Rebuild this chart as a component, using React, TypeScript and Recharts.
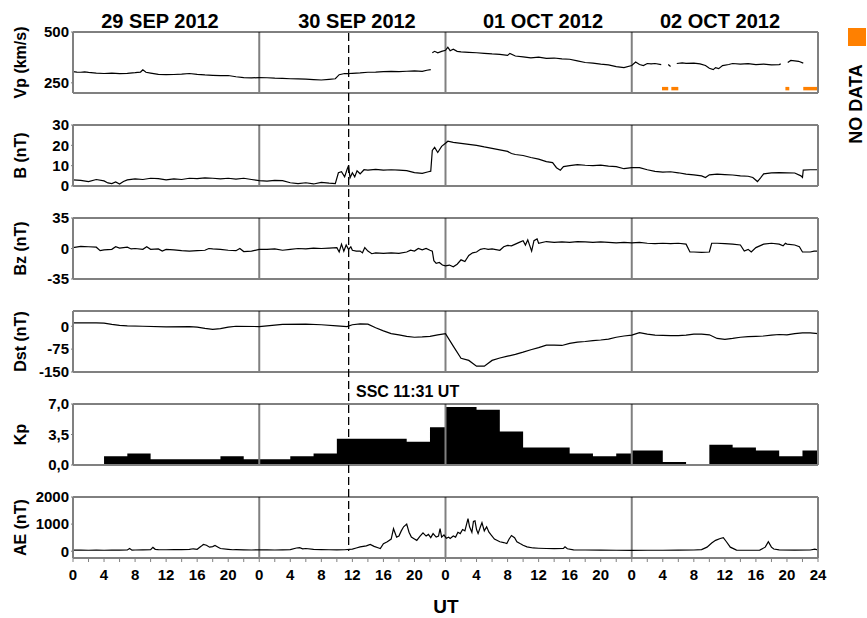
import React from 'react'
import {Area, AreaChart, Line, LineChart, ReferenceArea, ReferenceLine, XAxis, YAxis} from 'recharts'

type Pt = [number, number | null]

// hour since 29 Sep 2012 00 UT, value
const vp: Pt[] = [
	[0, 305], [0.5, 303], [1, 302], [1.5, 304], [2, 301], [3, 298], [4, 296], [5, 298], [6, 295], [7, 297], [8, 300],
	[8.7, 303], [9, 314], [9.4, 302], [10, 298], [11, 292], [12, 290], [13, 291], [14, 293], [15, 296], [16, 292],
	[17, 289], [18, 287], [19, 285], [20, 286], [21, 280], [22, 276], [23, 274], [24, 276],
	[25, 275], [26, 273], [27, 272], [28, 270], [29, 269], [30, 268], [31, 266], [32, 264], [33, 267], [33.8, 270],
	[34.3, 290], [35, 296], [35.5, 295], [36, 297], [37, 299], [38, 302], [39, 303], [40, 305], [41, 306], [42, 305],
	[43, 307], [44, 309], [45, 306], [45.6, 312], [46.1, 315], [46.2, null],
	[46.3, 398], [46.6, 405], [47, 398], [47.5, 405], [48, 410], [48.3, 425], [48.6, 408], [49, 415], [49.5, 405],
	[50, 402], [51, 400], [52, 398], [53, 395], [54, 392], [55, 390], [56, 385], [56.3, 395], [57, 382], [58, 378],
	[59, 373], [60, 376], [61, 370], [62, 372], [63, 368], [64, 366], [65, 358], [66, 350], [67, 347], [68, 342],
	[69, 338], [70, 330], [71, 325], [72, 335],
	[72.5, 352], [73, 340], [73.5, 335], [74, 345], [74.5, 343], [75, 345], [75.8, 340], [75.9, null],
	[76.7, 340], [77.0, 330], [77.1, null],
	[77.8, 345], [78.5, 348], [79, 346], [80, 347], [80.8, 343], [81.5, 335], [82, 322], [82.5, 315], [82.8, 325],
	[83.2, 320], [83.7, 335], [84.5, 340], [85, 345], [86, 342], [87, 344], [88, 340], [89, 342], [90, 338], [91, 340],
	[91.2, 343], [91.4, null],
	[92.1, 350], [92.5, 360], [93, 358], [93.5, 356], [94.1, 347],
]

const noDataStart = [75.9, 77.1, 91.8, 94.1]
const noDataEnd = [76.7, 78.0, 92.3, 96]

const bTotal: Pt[] = [
	[0, 3.0], [1, 2.8], [2, 2.2], [3, 3.2], [4, 2.5], [4.5, 1.5], [5, 1.2], [5.5, 2.0], [6, 1.0], [6.5, 2.2], [7, 3.0],
	[8, 3.5], [9, 3.2], [10, 3.8], [11, 3.6], [12, 3.0], [13, 3.5], [14, 3.2], [15, 3.8], [16, 3.6], [17, 4.0],
	[18, 3.8], [19, 3.5], [20, 3.8], [21, 3.4], [22, 3.8], [23, 3.2], [24, 2.6],
	[25, 2.4], [26, 2.8], [27, 2.6], [28, 1.6], [29, 1.2], [30, 1.6], [31, 1.0], [32, 1.8], [33, 1.4], [33.8, 1.2],
	[34.2, 6.5], [34.6, 7.0], [35, 4.5], [35.3, 8], [35.5, 10], [35.7, 4], [36, 6.5], [36.3, 4.5], [36.6, 7.5],
	[37, 6], [37.5, 8], [38, 7.8], [39, 8.2], [40, 7.8], [41, 8.0], [42, 7.8], [43, 7.6], [44, 6.6], [45, 6.2],
	[45.8, 7.0], [46.1, 7.3], [46.3, 17.5], [46.6, 19], [47, 16.5], [47.5, 19.5], [48, 21], [48.3, 22],
	[49, 21.5], [50, 21], [51, 20.5], [52, 20], [53, 19.2], [54, 18.5], [55, 17.8], [56, 17], [56.5, 16], [57, 15.5],
	[58, 15], [59, 14], [60, 13.2], [61, 12], [61.8, 11.5], [62.3, 9], [62.8, 7.8], [63.2, 9.5], [64, 10], [65, 10.5],
	[66, 10.2], [67, 10], [68, 10.3], [69, 9.8], [70, 9.5], [71, 8.5], [72, 9],
	[73, 9.0], [74, 8.0], [75, 7.2], [76, 6.8], [77, 7.0], [78, 6.5], [79, 5.8], [80, 5.5], [81, 5.0], [81.5, 4.2],
	[82, 5.5], [83, 5.8], [84, 5.6], [85, 5.4], [86, 5.0], [87, 4.8], [87.6, 4.2], [88.2, 2.2], [88.6, 4.0], [89, 6.0],
	[90, 6.5], [91, 6.6], [92, 6.5], [93, 6.4], [93.8, 5.0], [94, 4.2], [94.1, 7.8], [95, 8.0], [96, 8.0],
]

const bz: Pt[] = [
	[0, 1], [1, 2.5], [2, 2], [3, 1.5], [3.5, -2.5], [4, -1.5], [5, -1], [5.5, 2], [6, 0.5], [7, 1.5], [7.5, -0.5],
	[8, 0], [9, -1], [9.5, 2], [10, -1], [11, -0.5], [11.5, -3], [12, -1], [13, -1.5], [14, -2.5], [15, -3],
	[16, -2.5], [17, -2], [17.5, 0], [18, -0.5], [19, -1], [20, -2], [21, -2.5], [21.5, 0], [22, -3.5], [23, -3],
	[24, -1],
	[25, -1], [26, -0.5], [27, -2], [28, -1], [29, 0], [30, -0.5], [31, 0.5], [32, 0], [33, 0.5], [34, 1], [34.3, -4],
	[34.6, 5], [34.9, -3], [35.2, 4], [35.5, -1], [35.8, 2], [36, -2], [36.5, -3], [37, -3], [37.3, -5], [37.6, 1],
	[38, -3], [38.5, -6], [39, -5], [40, -5.5], [41, -5], [42, -5.5], [43, -4], [43.5, -2], [44, -3], [44.5, 0],
	[45, -1.5], [45.5, 0], [46, -2], [46.3, -3], [46.5, -14], [46.8, -17], [47.2, -16], [47.6, -19], [48, -20],
	[48.5, -19], [49, -21], [49.5, -18],
	[50, -13], [50.5, -15], [51, -8], [51.5, -5], [52, -4], [52.5, -1], [53, 0], [53.5, -1], [54, -0.5], [55, -2],
	[55.5, 2], [56, 3.5], [56.5, 3], [57, 5], [57.5, 7], [58, 9], [58.3, 4], [58.6, 10], [59.1, -3], [59.4, 9],
	[59.8, 11], [60, 6], [61, 8], [62, 7], [63, 7.5], [64, 7], [65, 8], [66, 7.5], [67, 7], [68, 7.5], [69, 7],
	[70, 6.5], [71, 7], [72, 6.5],
	[73, 7], [74, 6], [75, 5.5], [76, 6], [77, 5.5], [78, 6], [79, 5], [79.5, -4], [80, -4], [81, -4.5], [82, -4],
	[82.3, 6], [83, 6], [84, 5.5], [85, 5], [86, 4], [86.5, -3], [87, -1], [87.4, -4], [88, 1], [88.5, 3], [89, 5],
	[90, 6], [91, 5], [91.5, 3], [91.8, 6], [92, 5], [93, 4], [93.6, 2], [94, -4], [95, -4], [95.5, -3], [96, -3],
]

const dst: Pt[] = [
	[0, 11], [3, 11], [4, 10], [5, 6], [6, 3], [7, 1], [9, 0], [12, -2], [15, -1], [16, -3], [17, -7], [18, -10],
	[19, -8], [20, -3], [21, 0], [24, -1], [27, 6], [30, 7], [32, 5], [34, 1], [35.3, -1], [36, 5], [37, 8], [38, 7],
	[39, -5], [40, -15], [41, -24], [42, -28], [43, -33], [44, -36], [45, -35], [46, -33], [47, -28], [48, -24],
	[49, -65], [50, -105], [51, -112], [52, -131], [53, -131], [54, -112], [55, -104], [56, -98], [57, -92],
	[58, -85], [59, -77], [60, -70], [61, -62], [62, -62], [63, -63], [64, -56], [65, -52], [66, -50], [67, -47],
	[68, -45], [69, -42], [70, -36], [71, -32], [72, -29], [73, -21], [74, -26], [75, -29], [76, -30], [77, -31],
	[78, -31], [79, -29], [80, -26], [81, -26], [82, -28], [83, -40], [84, -43], [85, -40], [86, -36], [87, -34],
	[88, -33], [89, -32], [90, -29], [91, -27], [92, -28], [93, -24], [94, -22], [95, -22], [96, -24],
]

// 3-hourly Kp, each value holds until the next hour listed
const kp: Pt[] = [
	[0, 0], [4, 1], [7, 1.33], [10, 0.67], [19, 1], [22, 0.67], [28, 1], [31, 1.33], [34, 3], [43, 2.67], [46, 4.33],
	[48, 6.67], [52, 6.33], [55, 3.83], [58, 2], [64, 1.33], [67, 1], [70, 1.33], [72, 1.67], [76, 0.33], [79, 0],
	[82, 2.33], [85, 2], [88, 1.67], [91, 1], [94, 1.67], [96, 1.67],
]

const ae: Pt[] = [
	[0, 40], [1, 45], [2, 35], [3, 40], [4, 35], [5, 40], [6, 38], [7, 45], [7.3, 100], [7.6, 40], [8, 45], [9, 50],
	[10, 55], [10.3, 140], [10.6, 70], [11, 60], [12, 55], [13, 60], [14, 60], [15, 65], [15.5, 90], [16, 70],
	[16.5, 180], [16.8, 250], [17.2, 220], [17.6, 150], [18, 170], [18.3, 210], [18.7, 150], [19, 100], [20, 70],
	[20.6, 55], [21, 60], [22, 50], [23, 45], [24, 55],
	[25, 50], [26, 45], [27, 50], [28, 60], [28.8, 120], [29.2, 130], [29.6, 90], [30, 100], [31, 70], [32, 60],
	[33, 55], [34, 50], [35, 55], [36, 80], [36.5, 120], [37, 160], [37.8, 200], [38.3, 250], [38.8, 180],
	[39.3, 130], [39.6, 100], [40, 280], [40.5, 350], [41, 450], [41.3, 830], [41.7, 520], [42, 560], [42.3, 750],
	[42.6, 900], [43, 1000], [43.3, 700], [43.6, 520], [44, 450], [44.3, 400], [44.7, 550], [45.1, 680], [45.5, 560],
	[45.8, 620], [46.1, 500], [46.4, 650], [46.8, 520], [47.1, 560], [47.3, 830], [47.5, 520], [47.8, 600],
	[48.1, 480],
	[48.4, 520], [48.6, 470], [49, 560], [49.3, 520], [49.6, 700], [49.9, 650], [50.2, 800], [50.5, 750],
	[50.9, 1200], [51.1, 900], [51.4, 700], [51.6, 1100], [51.8, 1120], [52, 800], [52.2, 650], [52.5, 900],
	[52.7, 1050], [53, 750], [53.3, 900], [53.6, 700], [53.9, 590], [54.3, 450], [55, 350], [55.5, 320], [55.9, 283],
	[56.2, 450], [56.5, 580], [56.9, 500], [57.2, 350], [57.6, 283], [58, 220], [58.5, 160], [59.3, 120], [60, 110],
	[61, 100], [62, 95], [63.2, 100], [63.4, 160], [63.7, 90], [64.5, 50], [66, 45], [68, 40], [70, 35], [72, 30],
	[74, 35], [76, 35], [78, 40], [80, 45], [81, 60], [81.7, 150], [82.3, 300], [82.8, 400], [83.4, 470], [83.8, 500],
	[84.2, 350], [84.7, 150], [85.5, 40], [87, 35], [88.5, 40], [89.2, 150], [89.6, 350], [90, 150], [90.3, 80],
	[91, 50], [93, 40], [95, 45], [95.6, 80], [96, 45],
]

const dayNames = ['29 SEP 2012', '30 SEP 2012', '01 OCT 2012', '02 OCT 2012']
const dayNameX = [160, 357, 543, 720]
const dayEdges = [24, 48, 72]
const hourTicks = [
	0, 2, 4, 6, 8, 10, 12, 14, 16, 18, 20, 22, 24, 26, 28, 30, 32, 34, 36, 38, 40, 42, 44, 46, 48, 50, 52, 54, 56, 58,
	60, 62, 64, 66, 68, 70, 72, 74, 76, 78, 80, 82, 84, 86, 88, 90, 92, 94, 96,
]
const panelNames = ['Vp (km/s)', 'B (nT)', 'Bz (nT)', 'Dst (nT)', 'Kp', 'AE (nT)']
const sscHour = 35.52
const sscText = 'SSC 11:31 UT'

const W = 867
const H = 618
const PLOT_L = 73
const PLOT_R = 818
const PANEL_H = 61
const TOP_PAD = 11
const panelTops = [32, 125, 218, 311, 404, 497]
const AXIS = '#808080'
const NO_DATA = '#ff8000'
const tickFont = {fontSize: 15, fontWeight: 700, fill: '#000'}

const hourLabel = (v: number) => (v % 4 !== 0 ? '' : v === 96 ? '24' : String(v % 24))
const commaFmt = (v: number) => v.toFixed(1).replace('.', ',')

type PanelProps = {
	top: number
	data: Pt[]
	domain: [number, number]
	ticks: number[]
	minor: number[]
	fmt?: (v: number) => string
	bottom?: boolean
	step?: boolean
	extra?: React.ReactNode
}

function Panel({top, data, domain, ticks, minor, fmt, bottom, step, extra}: PanelProps) {
	const rows = data.map(([t, v]) => ({t, v}))
	const xh = bottom ? 40 : 12
	const Chart: any = step ? AreaChart : LineChart
	return (
		<div style={{position: 'absolute', left: 0, top: top - TOP_PAD}}>
			<Chart
				width={W}
				height={TOP_PAD + PANEL_H + xh}
				data={rows}
				margin={{top: TOP_PAD - 1, right: W - PLOT_R - 1, bottom: 0, left: 0}}
			>
				<XAxis
					xAxisId='b'
					type='number'
					dataKey='t'
					domain={[0, 96]}
					ticks={hourTicks}
					interval={0}
					height={xh}
					tickSize={4}
					tickMargin={7}
					tick={bottom ? tickFont : false}
					tickFormatter={hourLabel}
					axisLine={{stroke: AXIS, strokeWidth: 2}}
					tickLine={{stroke: AXIS}}
				/>
				<XAxis
					xAxisId='top'
					orientation='top'
					type='number'
					dataKey='t'
					domain={[0, 96]}
					height={1}
					tick={false}
					tickLine={false}
					axisLine={{stroke: '#000'}}
				/>
				<YAxis
					yAxisId='l'
					type='number'
					domain={domain}
					ticks={ticks}
					interval={0}
					width={PLOT_L}
					tickSize={2}
					tickMargin={2}
					tick={tickFont}
					tickFormatter={fmt}
					axisLine={{stroke: AXIS, strokeWidth: 2}}
					tickLine={{stroke: AXIS}}
					allowDataOverflow
				/>
				<YAxis
					yAxisId='r'
					orientation='right'
					type='number'
					domain={domain}
					ticks={minor}
					interval={0}
					width={1}
					tickSize={3}
					tick={false}
					axisLine={{stroke: AXIS, strokeWidth: 2}}
					tickLine={{stroke: AXIS}}
					allowDataOverflow
				/>
				{dayEdges.map((d) => (
					<ReferenceLine key={d} xAxisId='b' yAxisId='l' x={d} stroke={AXIS} strokeWidth={2} />
				))}
				{extra}
				{step ? (
					<Area
						xAxisId='b'
						yAxisId='l'
						type='stepAfter'
						dataKey='v'
						fill='#000'
						fillOpacity={1}
						stroke='none'
						isAnimationActive={false}
					/>
				) : (
					<Line
						xAxisId='b'
						yAxisId='l'
						type='linear'
						dataKey='v'
						stroke='#000'
						strokeWidth={1.2}
						dot={false}
						isAnimationActive={false}
					/>
				)}
			</Chart>
		</div>
	)
}

export default function App() {
	const sscX = PLOT_L + (sscHour / 96) * (PLOT_R - PLOT_L)
	return (
		<div
			style={{
				position: 'absolute',
				left: 0,
				top: 0,
				width: W,
				height: H,
				background: '#fff',
				fontFamily: '"Liberation Sans", Arial, sans-serif',
			}}
		>
			<Panel
				top={panelTops[0]}
				data={vp}
				domain={[200, 500]}
				ticks={[250, 500]}
				minor={[200, 225, 250, 275, 300, 325, 350, 375, 400, 425, 450, 475, 500]}
				extra={noDataStart.map((s, i) => (
					<ReferenceArea
						key={s}
						xAxisId='b'
						yAxisId='l'
						x1={s}
						x2={noDataEnd[i]}
						y1={213}
						y2={230}
						fill={NO_DATA}
						fillOpacity={1}
						stroke='none'
					/>
				))}
			/>
			<Panel top={panelTops[1]} data={bTotal} domain={[0, 30]} ticks={[0, 10, 20, 30]} minor={[0, 10, 20, 30]} />
			<Panel
				top={panelTops[2]}
				data={bz}
				domain={[-35, 35]}
				ticks={[-35, 0, 35]}
				minor={[-35, -17.5, 0, 17.5, 35]}
			/>
			<Panel
				top={panelTops[3]}
				data={dst}
				domain={[-150, 50]}
				ticks={[-150, -75, 0]}
				minor={[-150, -100, -50, 0, 50]}
			/>
			<Panel
				top={panelTops[4]}
				data={kp}
				domain={[0, 7]}
				ticks={[0, 3.5, 7]}
				minor={[0, 1.75, 3.5, 5.25, 7]}
				fmt={commaFmt}
				step
			/>
			<Panel
				top={panelTops[5]}
				data={ae}
				domain={[-250, 2000]}
				ticks={[0, 1000, 2000]}
				minor={[0, 500, 1000, 1500, 2000]}
				bottom
			/>
			<svg width={W} height={H} style={{position: 'absolute', left: 0, top: 0, pointerEvents: 'none'}}>
				{dayNames.map((d, i) => (
					<text key={d} x={dayNameX[i]} y={28} textAnchor='middle' fontSize={20} fontWeight={700}>
						{d}
					</text>
				))}
				{panelNames.map((n, i) => {
					const cy = panelTops[i] + PANEL_H / 2
					return (
						<text
							key={n}
							x={26}
							y={cy}
							transform={`rotate(-90 26 ${cy})`}
							textAnchor='middle'
							fontSize={16}
							fontWeight={700}
						>
							{n}
						</text>
					)
				})}
				<line x1={sscX} x2={sscX} y1={33} y2={551} stroke='#000' strokeWidth={1.3} strokeDasharray='8 4' />
				<text x={356} y={397} fontSize={16} fontWeight={700}>
					{sscText}
				</text>
				<text x={446} y={613} textAnchor='middle' fontSize={19} fontWeight={700}>
					UT
				</text>
				<rect x={848} y={28} width={18} height={18} fill={NO_DATA} />
				<text x={862} y={104} transform='rotate(-90 862 104)' textAnchor='middle' fontSize={18} fontWeight={700}>
					NO DATA
				</text>
			</svg>
		</div>
	)
}
